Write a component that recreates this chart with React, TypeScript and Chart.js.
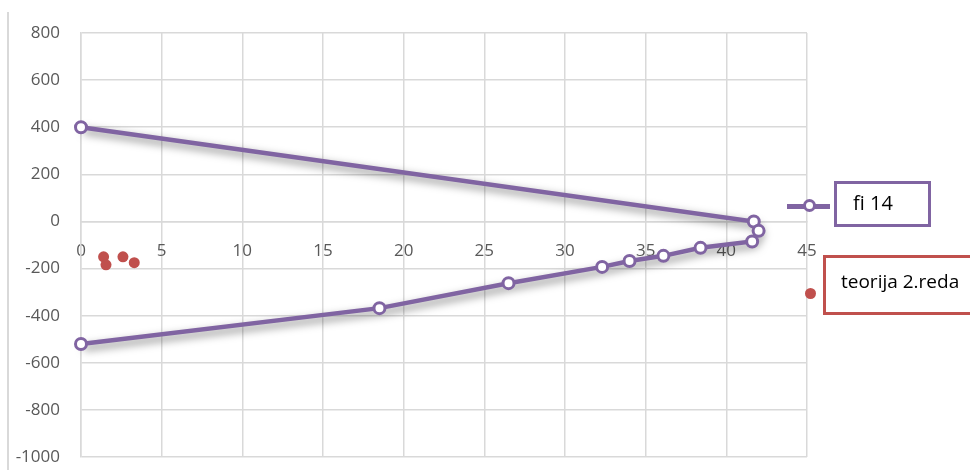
import React, { useEffect, useRef } from "react";
import { Chart, registerables } from "chart.js";

Chart.register(...registerables);

const fi14X = [0, 41.7, 42.0, 41.6, 38.4, 36.1, 34.0, 32.3, 26.5, 18.5, 0];
const fi14Y = [400, 0, -40, -85, -112, -146, -168, -193, -262, -368, -520];
const teorijaX = [1.4, 1.55, 2.6, 3.3];
const teorijaY = [-150, -184, -150, -175];
const seriesNames = ["fi 14", "teorija 2.reda"];
const xTicks = { min: 0, max: 45, step: 5 };
const yTicks = { min: -1000, max: 800, step: 200 };

const PURPLE = "#8064A2";
const RED = "#C0504D";
const GRID = "#d9d9d9";
const TEXT = "#595959";
const FONT = "'Open Sans', 'Noto Sans', sans-serif";

const shadowPlugin = {
  id: "lineShadow",
  beforeDatasetDraw(chart: any, args: any) {
    if (args.index !== 0) return;
    const ctx = chart.ctx;
    ctx.save();
    ctx.shadowColor = "rgba(0,0,0,0.5)";
    ctx.shadowBlur = 8;
    ctx.shadowOffsetX = 3;
    ctx.shadowOffsetY = 4;
  },
  afterDatasetDraw(chart: any, args: any) {
    if (args.index !== 0) return;
    chart.ctx.restore();
  },
};

export default function App() {
  const ref = useRef<HTMLCanvasElement | null>(null);

  useEffect(() => {
    if (!ref.current) return;
    const fiPoints = fi14X.map((x, i) => ({ x, y: fi14Y[i] }));
    const chart = new Chart(ref.current, {
      type: "scatter",
      data: {
        datasets: [
          {
            label: seriesNames[0],
            data: fiPoints,
            showLine: true,
            borderColor: PURPLE,
            borderWidth: 4.5,
            pointRadius: 0,
            clip: false,
            order: 2,
          } as any,
          {
            label: seriesNames[0] + " markers",
            data: fiPoints,
            showLine: false,
            pointRadius: 5.5,
            pointBorderWidth: 3,
            pointBackgroundColor: "#ffffff",
            pointBorderColor: PURPLE,
            clip: false,
            order: 1,
          } as any,
          {
            label: seriesNames[1],
            data: teorijaX.map((x, i) => ({ x, y: teorijaY[i] })),
            showLine: false,
            pointRadius: 5.5,
            pointBorderWidth: 0,
            pointBackgroundColor: RED,
            pointBorderColor: RED,
            clip: false,
            order: 0,
          } as any,
        ],
      },
      options: {
        animation: false,
        responsive: false,
        layout: { padding: { left: 0, top: 33, right: 163, bottom: 13 } },
        plugins: { legend: { display: false }, tooltip: { enabled: false } },
        scales: {
          x: {
            type: "linear",
            position: { y: 0 } as any,
            min: xTicks.min,
            max: xTicks.max,
            ticks: {
              stepSize: xTicks.step,
              padding: 20,
              color: TEXT,
              font: { family: FONT, size: 17 },
              maxRotation: 0,
            },
            grid: { color: GRID, lineWidth: 1.5, drawTicks: false },
            border: { color: GRID, width: 1.5 },
          },
          y: {
            type: "linear",
            min: yTicks.min,
            max: yTicks.max,
            afterFit(scale: any) {
              scale.width = 81;
              scale.paddingTop = 0;
              scale.paddingBottom = 0;
            },
            ticks: {
              stepSize: yTicks.step,
              padding: 21,
              color: TEXT,
              font: { family: FONT, size: 17 },
              callback: (v: any) => String(v),
            },
            grid: { color: GRID, lineWidth: 1.5, drawTicks: false },
            border: { color: GRID, width: 1.5 },
          },
        },
      },
      plugins: [shadowPlugin],
    });
    return () => chart.destroy();
  }, []);

  return (
    <div
      style={{
        position: "fixed",
        left: 0,
        top: 0,
        width: 970,
        height: 470,
        background: "#ffffff",
        overflow: "hidden",
        fontFamily: FONT,
      }}
    >
      <div
        style={{
          position: "absolute",
          left: 7,
          top: 12,
          width: 2,
          height: 470,
          background: GRID,
        }}
      />
      <canvas
        ref={ref}
        width={970}
        height={470}
        style={{ position: "absolute", left: 0, top: 0 }}
      />
      {/* legend: fi 14 */}
      <div
        style={{
          position: "absolute",
          left: 787,
          top: 204,
          width: 43,
          height: 4.5,
          background: PURPLE,
        }}
      />
      <div
        style={{
          position: "absolute",
          left: 803,
          top: 199,
          width: 7,
          height: 7,
          borderRadius: "50%",
          background: "#fff",
          border: `3px solid ${PURPLE}`,
        }}
      />
      <div
        style={{
          position: "absolute",
          left: 834,
          top: 181,
          width: 91,
          height: 40,
          border: `3px solid ${PURPLE}`,
          boxSizing: "content-box",
          color: "#000",
          fontSize: 20,
        }}
      >
        <span style={{ position: "absolute", left: 16, top: 5 }}>
          {seriesNames[0]}
        </span>
      </div>
      {/* legend: teorija 2.reda */}
      <div
        style={{
          position: "absolute",
          left: 805,
          top: 288,
          width: 11,
          height: 11,
          borderRadius: "50%",
          background: RED,
        }}
      />
      <div
        style={{
          position: "absolute",
          left: 823,
          top: 255,
          width: 200,
          height: 54,
          border: `3px solid ${RED}`,
          color: "#000",
          fontSize: 19,
        }}
      >
        <span style={{ position: "absolute", left: 15, top: 10 }}>
          {seriesNames[1]}
        </span>
      </div>
    </div>
  );
}
